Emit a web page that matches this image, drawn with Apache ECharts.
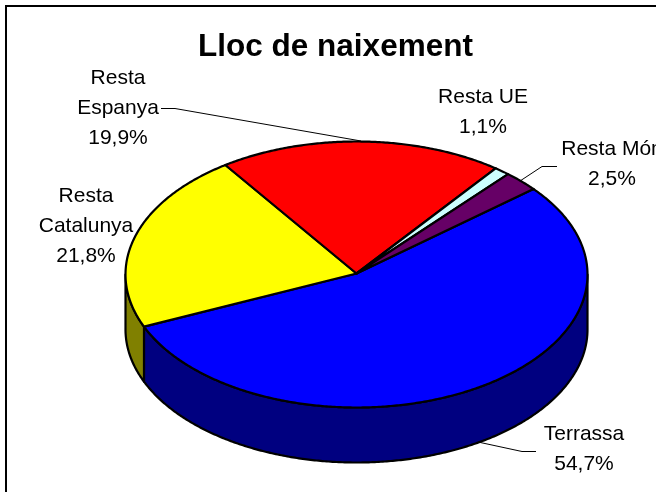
<!DOCTYPE html>
<html><head><meta charset="utf-8">
<style>html,body{margin:0;padding:0;background:#fff;overflow:hidden}#c{width:656px;height:492px}</style>
<script src="https://cdn.jsdelivr.net/npm/echarts@6/dist/echarts.min.js"></script>
</head><body><div id="c"></div>
<script>
const titleText = 'Lloc de naixement';
const categories = ['Terrassa', 'Resta\nCatalunya', 'Resta\nEspanya', 'Resta UE', 'Resta Món'];
const values = [54.7, 21.8, 19.9, 1.1, 2.5];
const topColors = ['#0000ff', '#ffff00', '#ff0000', '#ccffff', '#660066'];
const wallColors = ['#000080', '#808000', '#800000', '#669999', '#330033'];

// layout of the tilted pie
const CX = 356.5, CY = 274.5, RX = 231, RY = 133, DEPTH = 55, START = -40;
const labelCenters = [[584, 449], [86, 226], [118, 108], [483, 112], [612, 164.5]];
const leaders = [
  [[536, 451.5], [522, 451.5], [478, 442]],
  null,
  [[161, 108.5], [175, 108.5], [361, 141]],
  null,
  [[557, 166.5], [542, 166.5], [520, 181]]
];
const total = values.reduce((a, b) => a + b, 0);
const pt = (deg, dy) => {
  const r = deg * Math.PI / 180;
  return [CX + RX * Math.cos(r), CY + RY * Math.sin(r) + (dy || 0)];
};
const arc = (a0, a1, dy) => {
  const n = Math.max(2, Math.ceil(Math.abs(a1 - a0) * 2));
  const out = [];
  for (let i = 0; i <= n; i++) out.push(pt(a0 + (a1 - a0) * i / n, dy));
  return out;
};
const angleRange = i => {
  let sum = 0;
  for (let k = 0; k < i; k++) sum += values[k];
  return [START + sum / total * 360, START + (sum + values[i]) / total * 360];
};

function renderItem(params, api) {
  const i = params.dataIndex;
  const [a0, a1] = angleRange(i);
  const stroke = { stroke: '#000', lineWidth: 2.2, lineJoin: 'round' };
  const children = [];
  const w0 = Math.max(a0, 0), w1 = Math.min(a1, 180);
  if (w1 > w0) {
    children.push({
      type: 'polygon',
      z2: 1,
      shape: { points: arc(w0, w1, 0).concat(arc(w1, w0, DEPTH)) },
      style: Object.assign({ fill: wallColors[i] }, stroke)
    });
  }
  children.push({
    type: 'polygon',
    z2: 2,
    shape: { points: [[CX, CY - 1]].concat(arc(a0, a1, 0)) },
    style: Object.assign({ fill: topColors[i] }, stroke)
  });
  if (leaders[i]) {
    children.push({
      type: 'polyline',
      z2: 3,
      shape: { points: leaders[i] },
      style: { fill: 'none', stroke: '#000', lineWidth: 1 }
    });
  }
  children.push({
    type: 'text',
    z2: 4,
    style: {
      x: labelCenters[i][0],
      y: labelCenters[i][1],
      text: categories[i] + '\n' + String(api.value(0)).replace('.', ',') + '%',
      fill: '#000',
      font: '21px "Liberation Sans", Arial, sans-serif',
      lineHeight: 30,
      align: 'center',
      verticalAlign: 'middle'
    }
  });
  return { type: 'group', children };
}

const chart = echarts.init(document.getElementById('c'), null, { renderer: 'canvas' });
chart.setOption({
  animation: false,
  backgroundColor: '#fff',
  title: {
    text: titleText,
    left: 330.5,
    top: 26,
    textAlign: 'center',
    textStyle: { fontFamily: '"Liberation Sans", Arial, sans-serif', fontWeight: 'bold', fontSize: 31.5, color: '#000' }
  },
  graphic: [
    { type: 'line', shape: { x1: 6, y1: 6, x2: 656, y2: 6 }, style: { stroke: '#000', lineWidth: 2 } },
    { type: 'line', shape: { x1: 6, y1: 5, x2: 6, y2: 492 }, style: { stroke: '#000', lineWidth: 2 } }
  ],
  series: [{
    type: 'custom',
    coordinateSystem: 'none',
    data: values,
    renderItem
  }]
});
</script></body></html>
